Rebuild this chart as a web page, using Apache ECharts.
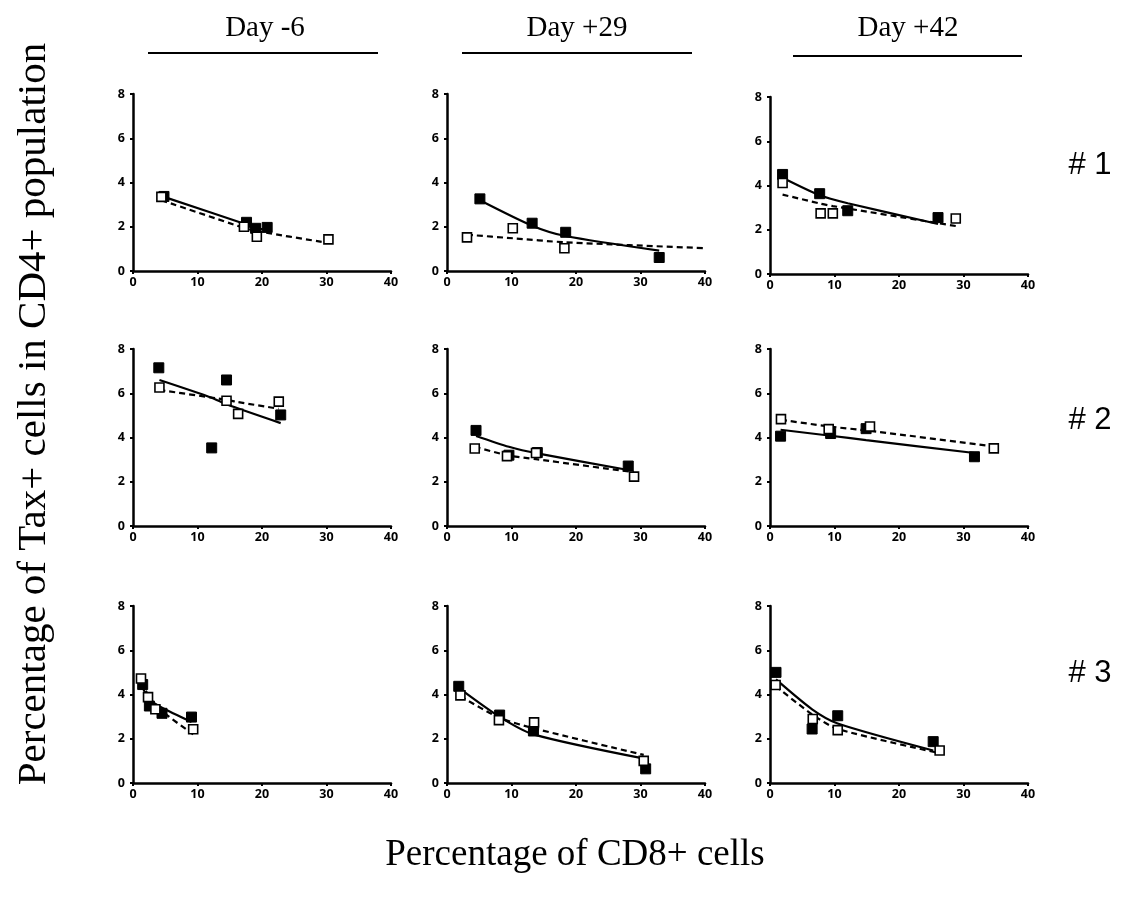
<!DOCTYPE html>
<html>
<head>
<meta charset="utf-8">
<script src="https://cdn.jsdelivr.net/npm/echarts@6/dist/echarts.min.js"></script>
<style>
  html, body { margin: 0; padding: 0; background: #fff; }
  #chart { width: 1136px; height: 897px; }
</style>
</head>
<body>
<div id="chart"></div>
<script>
// Column / row labels
const days = ['Day -6', 'Day +29', 'Day +42'];
const patients = ['# 1', '# 2', '# 3'];
const xTicks = [0, 10, 20, 30, 40];
const yTicks = [0, 2, 4, 6, 8];

// Patient #1 -- [CD8 %, Tax+ %]
const p1d6Filled = [[4.8, 3.37], [17.6, 2.2], [19.0, 1.93], [20.8, 1.97]];
const p1d6Open = [[4.4, 3.35], [17.2, 2.0], [19.2, 1.55], [30.3, 1.43]];
const p1d6Solid = [[4.8, 3.35], [17.6, 2.1], [19.0, 1.95], [20.8, 1.85]];
const p1d6Dashed = [[4.4, 3.2], [17.2, 1.95], [19.2, 1.8], [30.3, 1.27]];

const p1d29Filled = [[5.1, 3.26], [13.2, 2.16], [18.4, 1.75], [32.9, 0.61]];
const p1d29Open = [[3.1, 1.52], [10.2, 1.93], [18.2, 1.03], [40.1, 1.03]];
const p1d29Solid = [[5.1, 3.2], [13.2, 2.05], [18.4, 1.58], [32.9, 0.92]];
const p1d29Dashed = [[3.1, 1.64], [10.2, 1.48], [18.2, 1.3], [40.1, 1.03]];

const p1d42Filled = [[1.95, 4.5], [7.7, 3.63], [12.05, 2.86], [26.05, 2.55]];
const p1d42Open = [[1.95, 4.11], [7.85, 2.74], [9.74, 2.74], [28.8, 2.51]];
const p1d42Solid = [[1.95, 4.35], [7.7, 3.56], [12.05, 3.2], [26.05, 2.26]];
const p1d42Dashed = [[1.95, 3.59], [7.85, 3.18], [9.74, 3.07], [28.8, 2.17]];

// Patient #2
const p2d6Filled = [[4.0, 7.15], [12.2, 3.53], [14.5, 6.6], [22.9, 5.02]];
const p2d6Open = [[4.1, 6.26], [14.5, 5.66], [16.3, 5.07], [22.6, 5.62]];
const p2d6Solid = [[4.1, 6.6], [12.2, 5.8], [14.5, 5.5], [22.9, 4.65]];
const p2d6Dashed = [[4.1, 6.15], [14.5, 5.7], [16.3, 5.6], [22.6, 5.3]];

const p2d29Filled = [[4.5, 4.32], [9.6, 3.2], [14.0, 3.32], [28.1, 2.71]];
const p2d29Open = [[4.3, 3.5], [9.3, 3.16], [13.8, 3.3], [29.0, 2.23]];
const p2d29Solid = [[4.5, 4.07], [9.6, 3.58], [14.0, 3.28], [28.1, 2.53]];
const p2d29Dashed = [[4.3, 3.58], [9.3, 3.2], [13.8, 3.02], [29.0, 2.43]];

const p2d42Filled = [[1.64, 4.06], [9.4, 4.18], [14.9, 4.4], [31.7, 3.13]];
const p2d42Open = [[1.7, 4.83], [9.1, 4.38], [15.5, 4.5], [34.7, 3.51]];
const p2d42Solid = [[1.64, 4.35], [9.4, 4.08], [14.9, 3.88], [31.7, 3.3]];
const p2d42Dashed = [[1.7, 4.8], [9.1, 4.5], [15.5, 4.3], [34.7, 3.6]];

// Patient #3
const p3d6Filled = [[1.5, 4.45], [2.54, 3.48], [4.5, 3.15], [9.07, 2.98]];
const p3d6Open = [[1.24, 4.72], [2.33, 3.88], [3.47, 3.33], [9.33, 2.43]];
const p3d6Solid = [[1.5, 4.3], [2.54, 3.78], [4.5, 3.4], [9.07, 2.76]];
const p3d6Dashed = [[1.24, 4.57], [2.33, 4.0], [3.47, 3.48], [9.33, 2.2]];

const p3d29Filled = [[1.82, 4.37], [8.16, 3.07], [13.4, 2.35], [30.8, 0.64]];
const p3d29Open = [[2.08, 3.96], [8.05, 2.84], [13.5, 2.74], [30.5, 1.0]];
const p3d29Solid = [[1.82, 4.3], [8.16, 2.99], [13.4, 2.2], [30.8, 1.09]];
const p3d29Dashed = [[2.08, 3.92], [8.05, 2.96], [13.5, 2.47], [30.5, 1.27]];

const p3d42Filled = [[0.93, 5.0], [6.53, 2.44], [10.5, 3.04], [25.3, 1.87]];
const p3d42Open = [[0.87, 4.43], [6.63, 2.89], [10.5, 2.39], [26.3, 1.47]];
const p3d42Solid = [[0.93, 4.68], [6.53, 3.33], [10.5, 2.69], [25.3, 1.47]];
const p3d42Dashed = [[0.87, 4.38], [6.63, 3.08], [10.5, 2.44], [26.3, 1.35]];

const panels = [
  [p1d6Filled, p1d6Open, p1d6Solid, p1d6Dashed],
  [p1d29Filled, p1d29Open, p1d29Solid, p1d29Dashed],
  [p1d42Filled, p1d42Open, p1d42Solid, p1d42Dashed],
  [p2d6Filled, p2d6Open, p2d6Solid, p2d6Dashed],
  [p2d29Filled, p2d29Open, p2d29Solid, p2d29Dashed],
  [p2d42Filled, p2d42Open, p2d42Solid, p2d42Dashed],
  [p3d6Filled, p3d6Open, p3d6Solid, p3d6Dashed],
  [p3d29Filled, p3d29Open, p3d29Solid, p3d29Dashed],
  [p3d42Filled, p3d42Open, p3d42Solid, p3d42Dashed]
];

// layout of the 3x3 grid (pixels)
const colLeft = [133, 447, 770];
const rowTop = [94, 349, 606];
const panelW = 258;
const panelH = 177;

const tickFont = { fontFamily: 'Open Sans', fontWeight: 'bold', fontSize: 12.5, color: '#000' };

const grids = [], xAxes = [], yAxes = [], series = [];

panels.forEach((p, i) => {
  const r = Math.floor(i / 3), c = i % 3;
  grids.push({ left: colLeft[c], top: rowTop[r] + (r === 0 && c === 2 ? 3 : 0), width: panelW, height: panelH });
  xAxes.push({
    gridIndex: i, type: 'value', min: 0, max: 40, interval: 10,
    axisLine: { lineStyle: { color: '#000', width: 2.5 } },
    axisTick: { show: true, length: 3, lineStyle: { color: '#000', width: 2 } },
    axisLabel: Object.assign({ margin: 5 }, tickFont),
    splitLine: { show: false }
  });
  yAxes.push({
    gridIndex: i, type: 'value', min: 0, max: 8, interval: 2,
    axisLine: { show: true, lineStyle: { color: '#000', width: 2.5 } },
    axisTick: { show: true, length: 3, lineStyle: { color: '#000', width: 2 } },
    axisLabel: Object.assign({ margin: 8 }, tickFont),
    splitLine: { show: false }
  });
  const [filled, open, solid, dashed] = p;
  series.push({
    type: 'line', xAxisIndex: i, yAxisIndex: i, data: solid, smooth: 0.25,
    symbol: 'none', z: 2, lineStyle: { color: '#000', width: 2.2 }
  });
  series.push({
    type: 'line', xAxisIndex: i, yAxisIndex: i, data: dashed, smooth: 0.25,
    symbol: 'none', z: 2, lineStyle: { color: '#000', width: 2.2, type: [6, 4] }
  });
  series.push({
    type: 'scatter', xAxisIndex: i, yAxisIndex: i, data: filled,
    symbol: 'rect', symbolSize: 10, z: 3,
    itemStyle: { color: '#000', borderColor: '#000', borderWidth: 1, opacity: 1 }
  });
  series.push({
    type: 'scatter', xAxisIndex: i, yAxisIndex: i, data: open,
    symbol: 'rect', symbolSize: 9, z: 4,
    itemStyle: { color: '#fff', borderColor: '#000', borderWidth: 1.6, opacity: 1 }
  });
});

// header texts, header rules and side labels
const graphics = [];
const headerX = [265, 577, 908];
const ruleX = [[148, 378], [462, 692], [793, 1022]];
const ruleY = [53, 53, 56];
days.forEach((d, c) => {
  graphics.push({
    type: 'text', x: headerX[c], y: 28,
    style: { text: d, fontFamily: 'Liberation Serif', fontSize: 29, fill: '#000', textAlign: 'center', textVerticalAlign: 'middle' }
  });
  graphics.push({
    type: 'line', shape: { x1: ruleX[c][0], y1: ruleY[c], x2: ruleX[c][1], y2: ruleY[c] },
    style: { stroke: '#000', lineWidth: 2 }
  });
});
const sideY = [165, 420, 673];
patients.forEach((t, r) => {
  graphics.push({
    type: 'text', x: 1090, y: sideY[r],
    style: { text: t, fontFamily: 'Liberation Sans', fontSize: 31, fill: '#000', textAlign: 'center', textVerticalAlign: 'middle' }
  });
});
graphics.push({
  type: 'text', x: 34, y: 414, rotation: Math.PI / 2,
  style: { text: 'Percentage of Tax+ cells in CD4+ population', fontFamily: 'Liberation Serif', fontSize: 41, fill: '#000', textAlign: 'center', textVerticalAlign: 'middle' }
});
graphics.push({
  type: 'text', x: 575, y: 855,
  style: { text: 'Percentage of CD8+ cells', fontFamily: 'Liberation Serif', fontSize: 37, fill: '#000', textAlign: 'center', textVerticalAlign: 'middle' }
});

const chart = echarts.init(document.getElementById('chart'));
chart.setOption({
  animation: false,
  backgroundColor: '#fff',
  grid: grids,
  xAxis: xAxes,
  yAxis: yAxes,
  series: series,
  graphic: graphics
});
</script>
</body>
</html>
